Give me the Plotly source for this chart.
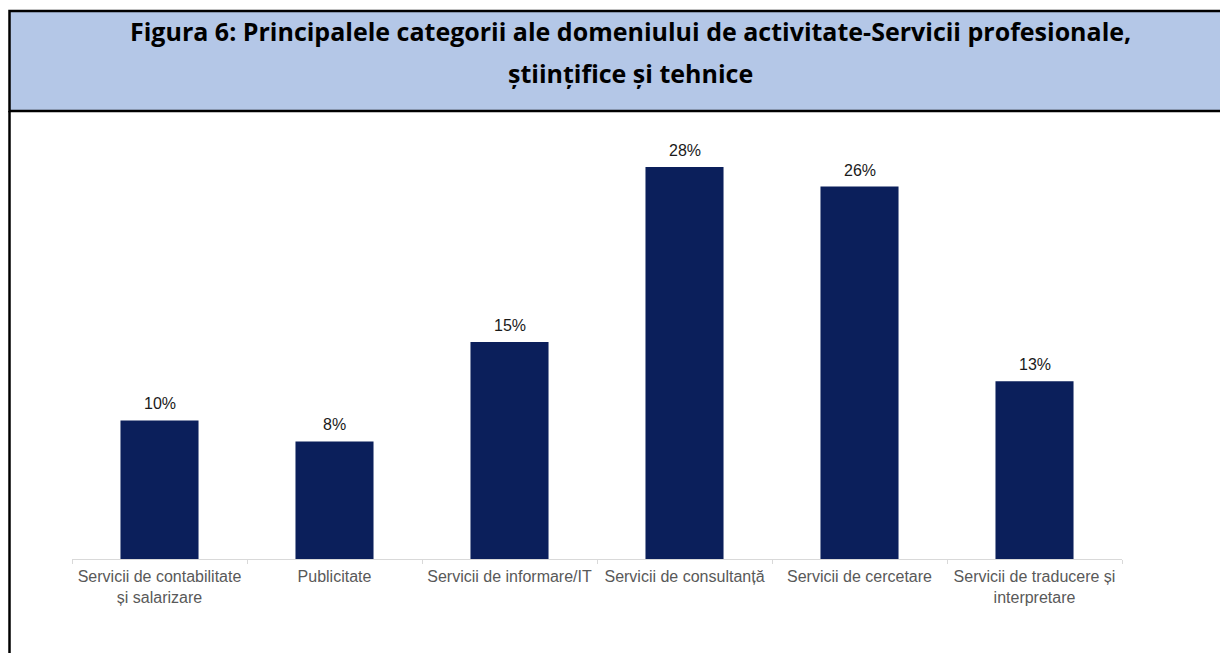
import plotly.graph_objects as go

categories = ["Servicii de contabilitate<br>și salarizare", "Publicitate", "Servicii de informare/IT",
              "Servicii de consultanță", "Servicii de cercetare", "Servicii de traducere și<br>interpretare"]
values = [9.9, 8.4, 15.5, 28.0, 26.6, 12.7]
labels = ["10%", "8%", "15%", "28%", "26%", "13%"]
title_lines = ["Figura 6: Principalele categorii ale domeniului de activitate-Servicii profesionale,",
               "științifice și tehnice"]

W, H = 1228, 653
OFF = 8  # page body margin
L, R, T, B = 64, 114, 131, 102
pw, ph = W - L - R, H - T - B


def px(x):
    return (x - OFF - L) / pw


def py(y):
    return (H - B - (y - OFF)) / ph


fig = go.Figure(go.Bar(
    x=categories, y=values,
    marker=dict(color="#0B1F5B", line=dict(width=0)),
    width=0.446, hoverinfo="x+y",
))

annotations = []
for c, v, t in zip(categories, values, labels):
    annotations.append(dict(x=c, y=v, xref="x", yref="y", text=t, showarrow=False,
                            yanchor="bottom", xanchor="center", yshift=6,
                            font=dict(family="Liberation Sans, Arial", size=16, color="#1A1A1A")))

for i, (line, yc) in enumerate(zip(title_lines, [31, 73])):
    annotations.append(dict(text="<b>" + line + "</b>", xref="paper", yref="paper",
                            x=px(630), y=py(yc), xanchor="center", yanchor="middle",
                            showarrow=False,
                            font=dict(family="Open Sans", size=25, color="black")))

shapes = [
    dict(type="rect", xref="paper", yref="paper", x0=px(9.5), x1=px(1250), y0=py(111), y1=py(11),
         fillcolor="#B4C7E7", line=dict(color="black", width=2.5), layer="below"),
    dict(type="line", xref="paper", yref="paper", x0=px(9.5), x1=px(9.5), y0=py(111), y1=py(680),
         line=dict(color="black", width=2.5)),
]

fig.update_layout(
    width=W, height=H, margin=dict(l=L, r=R, t=T, b=B),
    paper_bgcolor="white", plot_bgcolor="white",
    showlegend=False, shapes=shapes, annotations=annotations,
    xaxis=dict(showline=True, linecolor="#D9D9D9", linewidth=1, ticks="outside", tickson="boundaries",
               ticklen=4, tickcolor="#D9D9D9", showgrid=False, ticklabelstandoff=3,
               tickfont=dict(family="Liberation Sans, Arial", size=16, color="#595959")),
    yaxis=dict(range=[0, 30], visible=False, showgrid=False, zeroline=False),
    bargap=0.554,
)

fig.write_html("out.html")
